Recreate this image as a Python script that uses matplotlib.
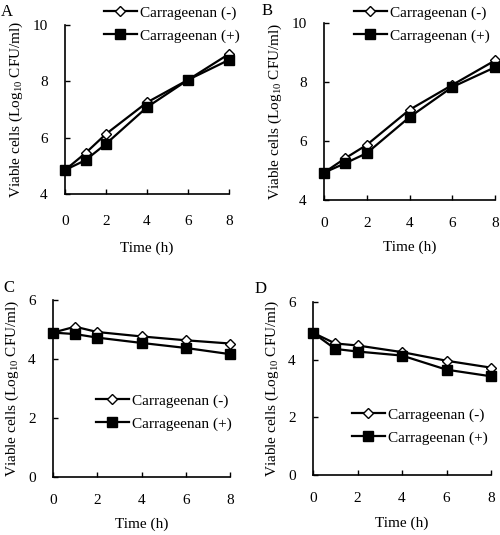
import matplotlib
matplotlib.use("Agg")
import matplotlib.pyplot as plt

plt.rcParams['font.family'] = ['Liberation Serif', 'DejaVu Serif']
plt.rcParams['mathtext.fontset'] = 'custom'
plt.rcParams['mathtext.rm'] = 'Liberation Serif'

time_h = [0, 1, 2, 4, 6, 8]
xticks = [0, 2, 4, 6, 8]

a_minus = [4.85, 5.45, 6.13, 7.25, 8.05, 8.97]
a_plus = [4.85, 5.2, 5.78, 7.08, 8.05, 8.76]
b_minus = [4.93, 5.42, 5.87, 7.06, 7.9, 8.73]
b_plus = [4.93, 5.25, 5.59, 6.81, 7.83, 8.5]
c_minus = [4.9, 5.1, 4.92, 4.77, 4.64, 4.53]
c_plus = [4.9, 4.85, 4.73, 4.55, 4.38, 4.17]
d_minus = [4.94, 4.57, 4.5, 4.27, 3.97, 3.73]
d_plus = [4.94, 4.38, 4.29, 4.15, 3.66, 3.43]

panels = [
    ("A", a_minus, a_plus, (4, 10), [4, 6, 8, 10], [0.13, 0.6374, 0.328, 0.316], (1, 12), (0.48, 0.9888), 15, 9.5),
    ("B", b_minus, b_plus, (4, 10), [4, 6, 8, 10], [0.648, 0.626, 0.342, 0.331], (262, 11), (0.98, 0.9888), 12, 8),
    ("C", c_minus, c_plus, (0, 6), [0, 2, 4, 6], [0.106, 0.108, 0.354, 0.331], (3, 288), (0.464, 0.2636), 12, 7.5),
    ("D", d_minus, d_plus, (0, 6), [0, 2, 4, 6], [0.626, 0.112, 0.356, 0.323], (255, 289), (0.976, 0.2374), 12.5, 8),
]

W, H = 500, 535
fig = plt.figure(figsize=(W / 100, H / 100), dpi=100)
fs = 11
for label, ym, yp, ylim, yt, rect, lpos, legpos, xpad, xlpad in panels:
    ax = fig.add_axes(rect)
    ax.plot(time_h, ym, color='black', lw=1.6, marker='D', markersize=5.5,
            markerfacecolor='white', markeredgecolor='black', markeredgewidth=1.0,
            label='Carrageenan (-)', zorder=3)
    ax.plot(time_h, yp, color='black', lw=1.6, marker='s', markersize=7.5,
            markerfacecolor='black', markeredgecolor='black',
            label='Carrageenan (+)', zorder=4)
    ax.set_xlim(0, 8)
    ax.set_ylim(*ylim)
    ax.set_xticks(xticks)
    ax.set_yticks(yt)
    ax.spines['top'].set_visible(False)
    ax.spines['right'].set_visible(False)
    ax.spines['left'].set_linewidth(1.2)
    ax.spines['bottom'].set_linewidth(1.2)
    ax.tick_params(direction='in', length=3.5, width=1.0, labelsize=fs)
    ax.tick_params(axis='x', pad=xpad)
    ax.tick_params(axis='y', pad=12.5)
    ax.set_xlabel('Time (h)', fontsize=fs, labelpad=xlpad)
    ax.set_ylabel('Viable cells (Log$_{10}$ CFU/ml)', fontsize=fs, labelpad=5)
    for l in ax.lines:
        l.set_clip_on(False)
    ax.legend(loc='upper right', bbox_to_anchor=legpos, bbox_transform=fig.transFigure,
              frameon=False, fontsize=fs, handlelength=2.2, handletextpad=0.2,
              labelspacing=0.6, borderaxespad=0, borderpad=0)
    fig.text(lpos[0] / W, 1 - lpos[1] / H, label, fontsize=12, ha='left', va='center')

fig.savefig('out.png', dpi=100)
